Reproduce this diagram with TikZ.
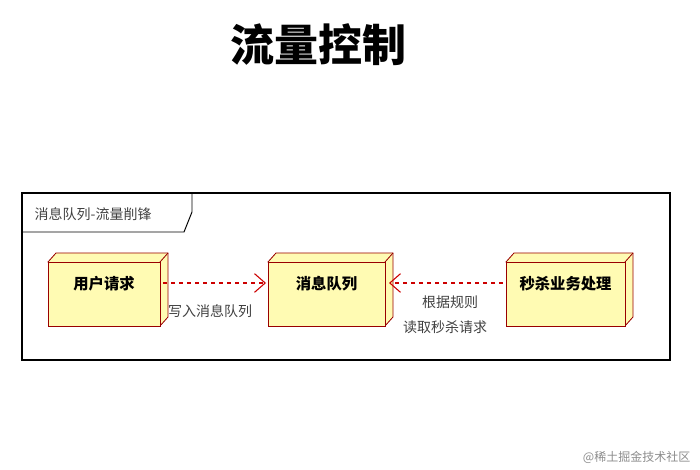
\documentclass[tikz,border=0pt]{standalone}
\usepackage{fontspec}
\newfontfamily\cjk{Noto Sans CJK SC}
\usetikzlibrary{arrows.meta}
\tikzset{
 nodebox/.style={draw=red!60!black, fill=yellow!30, line width=0.6pt},
 dep/.style={red!80!black, dashed, line width=0.8pt, -{Straight Barb[length=8pt,width=14pt]}},
 lbl/.style={font=\cjk\fontsize{10.5}{12}\selectfont, text=black!75},
 btxt/.style={font=\cjk\bfseries\fontsize{11.5}{13}\selectfont}
}
\begin{document}
\begin{tikzpicture}[x=0.75pt,y=-0.75pt]
\useasboundingbox (0,0) rectangle (700,470);
\node (title) at (318,45) {\cjk\bfseries\fontsize{33}{36}\selectfont 流量控制};
\draw[line width=1.2pt] (22,193) rectangle (670,360);
\draw[line width=0.7pt] (22,232) -- (184,232) -- (192,212) -- (192,193);
\node[lbl, anchor=west] (tab) at (30,214) {消息队列-流量削锋};
\foreach \n/\x/\w/\t in {a/48/112/用户请求, b/268/117/消息队列, c/506/119/秒杀业务处理}{
  \draw[nodebox] (\x,262) -- (\x+8,253) -- (\x+\w+8,253) -- (\x+\w+8,317) -- (\x+\w,326) -- cycle;
  \draw[nodebox] (\x,262) rectangle (\x+\w,326);
  \draw[red!60!black, line width=0.6pt] (\x+\w,262) -- (\x+\w+8,253);
  \node[btxt] (\n) at (\x+\w/2,284) {\t};
}
\coordinate (a1) at (163,283);
\coordinate (b1) at (266,283);
\coordinate (b2) at (389,283);
\coordinate (c1) at (503,283);
\draw[dep] (a1) -- (b1);
\draw[dep] (c1) -- (b2);
\node[lbl] (l1) at (210,311) {写入消息队列};
\node[lbl] (l2) at (450,302) {根据规则};
\node[lbl] (l3) at (445,327) {读取秒杀请求};
\node[font=\cjk\fontsize{9}{11}\selectfont, text=black!45, anchor=east] (wm) at (695,457) {@稀土掘金技术社区};
\end{tikzpicture}
\end{document}
